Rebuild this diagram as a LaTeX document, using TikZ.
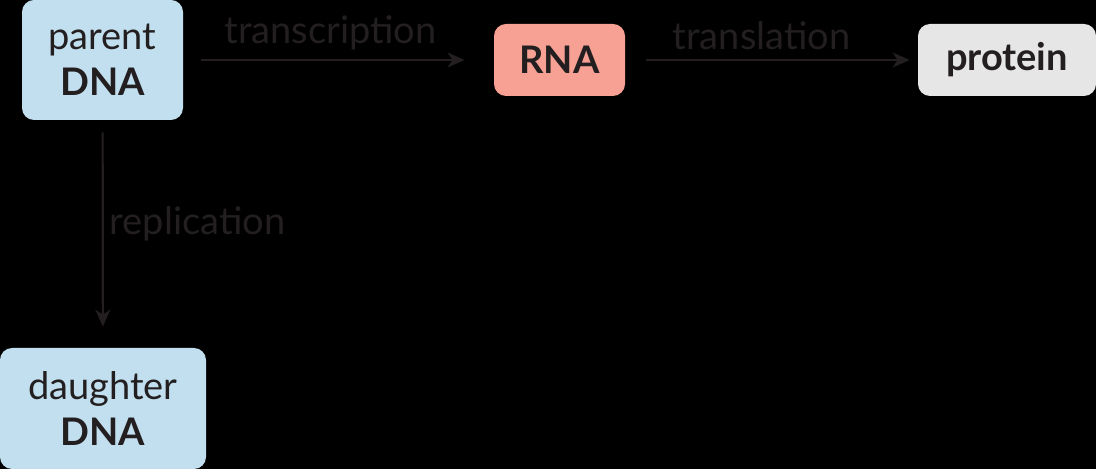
\documentclass[tikz,border=0pt]{standalone}
\usepackage{fontspec}
\setmainfont{Lato}
\usetikzlibrary{arrows.meta}
\definecolor{ink}{HTML}{231F20}
\definecolor{dnablue}{HTML}{C1DFEE}
\definecolor{rnared}{HTML}{F7A194}
\definecolor{protgray}{HTML}{E6E6E6}
\begin{document}
\begin{tikzpicture}[x=0.5pt,y=-0.5pt,font=\fontsize{19}{23}\selectfont,text=ink,
 b/.style={rounded corners=6pt,inner sep=0pt,align=center},
 arr/.style={draw=ink,line width=1.1pt,-{Stealth[length=8.5pt,width=7.5pt,inset=2.5pt]}},
 lbl/.style={text=ink,inner sep=0pt}]
\fill[black](0,0)rectangle(1096,469);
\node[b,fill=dnablue,minimum width=80.5pt,minimum height=60pt](par)at(102.5,60){parent\\\textbf{DNA}};
\node[b,fill=rnared,minimum width=65.5pt,minimum height=36pt](rna)at(559.5,60){\textbf{RNA}};
\node[b,fill=protgray,minimum width=89pt,minimum height=36pt](prot)at(1007,60){\textbf{protein}};
\node[b,fill=dnablue,minimum width=103pt,minimum height=60.5pt](dau)at(103,408.5){daughter\\\textbf{DNA}};
\draw[arr,shorten <=9pt,shorten >=14.5pt](par)--node[lbl,above=4.5pt,xshift=-4pt]{transcription}(rna);
\draw[arr,shorten <=10.5pt,shorten >=4pt](rna)--node[lbl,above=4.5pt,xshift=-5pt]{translation}(prot);
\draw[arr,shorten <=6pt,shorten >=10.5pt](par)--node[lbl,right=3pt,yshift=5pt]{replication}(dau);
\end{tikzpicture}
\end{document}
